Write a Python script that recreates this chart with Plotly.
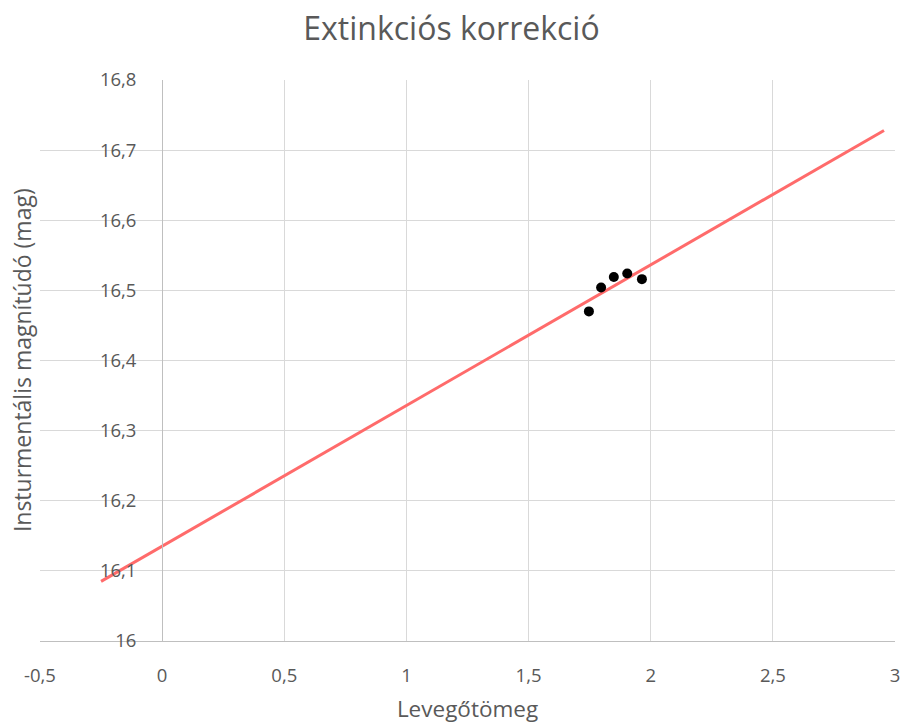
import plotly.graph_objects as go

# measured points
airmass = [1.747, 1.797, 1.849, 1.904, 1.964]
inst_mag = [16.470, 16.504, 16.519, 16.524, 16.516]

# fitted linear trend line (endpoints as drawn)
trend_x = [-0.25, 2.955]
trend_y = [16.085, 16.728]

x_ticks = [-0.5, 0, 0.5, 1, 1.5, 2, 2.5, 3]
x_tick_text = ["-0,5", "0", "0,5", "1", "1,5", "2", "2,5", "3"]
y_ticks = [16, 16.1, 16.2, 16.3, 16.4, 16.5, 16.6, 16.7, 16.8]
y_tick_text = ["16", "16,1", "16,2", "16,3", "16,4", "16,5", "16,6", "16,7", "16,8"]

font_family = "Open Sans, Liberation Sans, sans-serif"
grid = "#d9d9d9"
text_color = "#595959"

trace_line = go.Scatter(
    x=trend_x,
    y=trend_y,
    mode="lines",
    line=dict(color="#ff6b6b", width=3),
    hoverinfo="none",
)

trace_points = go.Scatter(
    x=airmass,
    y=inst_mag,
    mode="markers",
    marker=dict(color="black", size=10),
)

x_min, x_max = -0.5, 3
y_pos = (0 - x_min) / (x_max - x_min)

layout = go.Layout(
    width=903,
    height=724,
    showlegend=False,
    plot_bgcolor="white",
    paper_bgcolor="white",
    font=dict(family=font_family, color=text_color, size=18.5),
    title=dict(
        text="Extinkciós korrekció",
        x=0.5,
        xanchor="center",
        y=0.96,
        yanchor="middle",
        font=dict(size=32, color=text_color),
    ),
    margin=dict(l=40, r=8, t=80, b=83, autoexpand=False),
    xaxis=dict(
        range=[x_min, x_max],
        tickvals=x_ticks,
        ticktext=x_tick_text,
        showgrid=True,
        gridcolor=grid,
        gridwidth=1,
        zeroline=False,
        showline=True,
        linecolor="#bfbfbf",
        linewidth=1,
        ticks="",
        ticklabelstandoff=18,
        automargin=False,
        title=dict(text="Levegőtömeg", font=dict(size=22.5, color=text_color), standoff=16),
    ),
    yaxis=dict(
        range=[16, 16.8],
        tickvals=y_ticks,
        ticktext=y_tick_text,
        showgrid=True,
        gridcolor=grid,
        gridwidth=1,
        zeroline=False,
        anchor="free",
        position=y_pos,
        showline=True,
        linecolor="#bfbfbf",
        linewidth=1,
        ticks="",
        ticklabelstandoff=22,
        automargin=False,
    ),
    annotations=[
        dict(
            text="Insturmentális magnítúdó (mag)",
            xref="paper",
            yref="paper",
            x=-0.0215,
            y=0.5,
            xanchor="center",
            yanchor="middle",
            textangle=-90,
            showarrow=False,
            font=dict(size=23, color=text_color),
        )
    ],
)

fig = go.Figure(data=[trace_line, trace_points], layout=layout)
fig.write_html(
    "out.html",
    config={"displayModeBar": False},
    post_script="document.body.style.margin='0';document.body.style.overflow='hidden';",
)
